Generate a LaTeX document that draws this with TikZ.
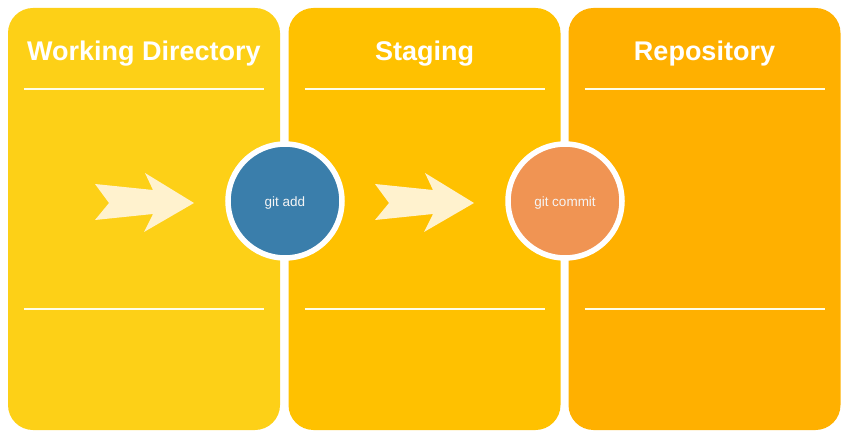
\documentclass[tikz,border=0pt]{standalone}
\usepackage{fontspec}
\setmainfont{Liberation Sans}
\begin{document}
\begin{tikzpicture}[x=1pt,y=-1pt]
        % Define colors
        \definecolor{wdcolor}{RGB}{253,208,23}
        \definecolor{stgcolor}{RGB}{255,193,0}
        \definecolor{repocolor}{RGB}{255,176,0}
        \definecolor{addcolor}{RGB}{58,126,171}
        \definecolor{commitcolor}{RGB}{240,148,83}
        \definecolor{arrowcolor}{RGB}{255,242,206}
        \tikzset{
            panel/.style={rectangle, rounded corners=25pt, minimum width=272pt, minimum height=422pt, inner sep=0},
            title/.style={text=white, font=\fontsize{27}{30}\selectfont\bfseries},
            gitcmd/.style={circle, draw=white, line width=5.5pt, minimum size=114pt, inner sep=0},
            cmdtext/.style={text=white!92!gray, font=\fontsize{13.5}{15}\selectfont},
            rule/.style={draw=white!90!yellow, line width=2pt}
        }
        \useasboundingbox (0,0) rectangle (848,438);

        % Panels
        \foreach \name/\cx/\col/\txt in {
            wd/144/wdcolor/Working Directory,
            stg/424.5/stgcolor/Staging,
            repo/704.5/repocolor/Repository
        } {
            \node[panel, fill=\col] (\name) at (\cx,219) {};
            \node[title] (\name-title) at (\cx,53.5) {\txt};
            \draw[rule] (\cx-120,89) -- (\cx+120,89);
            \draw[rule] (\cx-120,309) -- (\cx+120,309);
        }

        % Arrows
        \foreach \dx in {0,280}
            \fill[arrowcolor, xshift=\dx] (95,184) -- (153,190) -- (145,173) -- (194,203)
                -- (144,232) -- (153,214) -- (95,220) -- (109,203) -- cycle;

        % Commands
        \node[gitcmd, fill=addcolor] (add) at (285,201) {};
        \node[cmdtext] (add-text) at ([yshift=-2pt]add.center) {git add};
        \node[gitcmd, fill=commitcolor] (commit) at (565,201) {};
        \node[cmdtext] (commit-text) at ([yshift=-2pt]commit.center) {git commit};
\end{tikzpicture}
\end{document}
